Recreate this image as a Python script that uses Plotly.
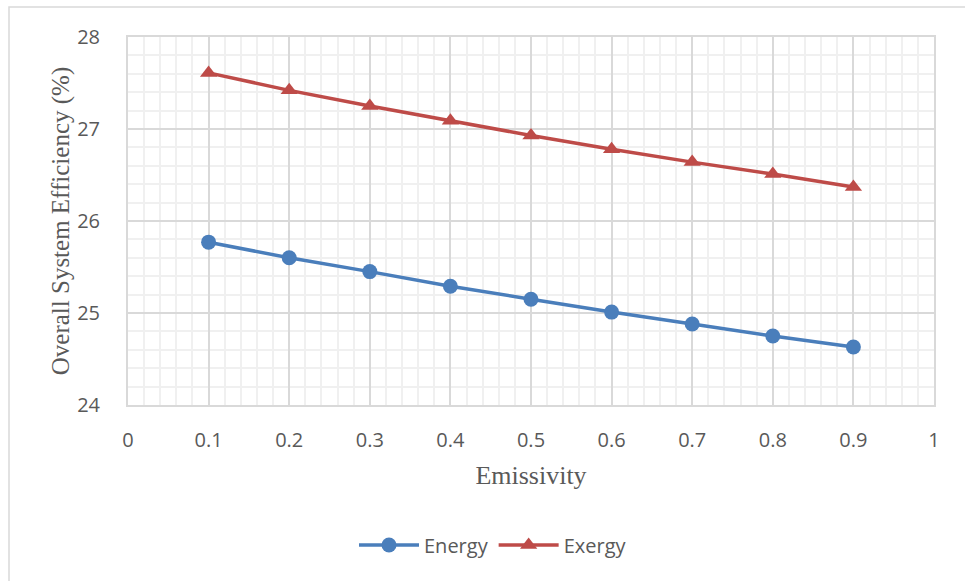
import plotly.graph_objects as go

emissivity = [0.1, 0.2, 0.3, 0.4, 0.5, 0.6, 0.7, 0.8, 0.9]
energy = [25.77, 25.60, 25.45, 25.29, 25.15, 25.01, 24.88, 24.75, 24.63]
exergy = [27.61, 27.42, 27.25, 27.09, 26.93, 26.78, 26.64, 26.51, 26.37]

W, H = 965, 581
ml, mr, mt, mb = 128, 31, 37, 176
pw, ph = W - ml - mr, H - mt - mb

fig = go.Figure()
fig.add_trace(go.Scatter(x=emissivity, y=energy, name="Energy", mode="lines+markers",
                         line=dict(color="#4a7ebb", width=3.5),
                         marker=dict(symbol="circle", size=15, color="#4a7ebb")))
fig.add_trace(go.Scatter(x=emissivity, y=exergy, name="Exergy", mode="lines+markers",
                         line=dict(color="#be4b48", width=3.5),
                         marker=dict(symbol="triangle-up", size=15, color="#be4b48")))

tickfont = dict(family="Open Sans", size=20, color="#595959")
fig.update_xaxes(range=[0, 1], tickvals=[0, 0.1, 0.2, 0.3, 0.4, 0.5, 0.6, 0.7, 0.8, 0.9, 1],
                 ticktext=["0", "0.1", "0.2", "0.3", "0.4", "0.5", "0.6", "0.7", "0.8", "0.9", "1"],
                 showgrid=True, gridcolor="#d9d9d9", gridwidth=1.5,
                 minor=dict(dtick=0.02, showgrid=True, gridcolor="#f0f0f0", gridwidth=1.5),
                 showline=True, linecolor="#d9d9d9", linewidth=2, mirror=True,
                 ticks="", zeroline=False, tickfont=tickfont, ticklabelstandoff=16,
                 title=dict(text="Emissivity", font=dict(family="Liberation Serif", size=26, color="#595959"), standoff=14))
fig.update_yaxes(range=[24, 28], tickvals=[24, 25, 26, 27, 28],
                 showgrid=True, gridcolor="#d9d9d9", gridwidth=1.5,
                 minor=dict(dtick=0.2, showgrid=True, gridcolor="#f0f0f0", gridwidth=1.5),
                 showline=True, linecolor="#d9d9d9", linewidth=2, mirror=True,
                 ticks="", zeroline=False, tickfont=tickfont, ticklabelstandoff=22,
                 title=dict(text="Overall System Efficiency (%)", font=dict(family="Liberation Serif", size=25, color="#595959"), standoff=0))

fig.add_shape(type="rect", xref="paper", yref="paper",
              x0=(9 - ml) / pw, x1=(W + 20 - ml) / pw,
              y0=-(H + 20 - mt - ph) / ph, y1=1 + (mt - 7) / ph,
              line=dict(color="#d9d9d9", width=1.5), fillcolor="rgba(0,0,0,0)", layer="below")

fig.update_layout(width=W, height=H, margin=dict(l=ml, r=mr, t=mt, b=mb),
                  paper_bgcolor="white", plot_bgcolor="white", showlegend=True,
                  legend=dict(orientation="h", x=(493 - ml) / pw, xanchor="center",
                              y=-(545 - mt - ph) / ph, yanchor="middle",
                              font=dict(family="Open Sans", size=20, color="#595959"),
                              itemwidth=60, tracegroupgap=30))

fig.write_html("out.html")
